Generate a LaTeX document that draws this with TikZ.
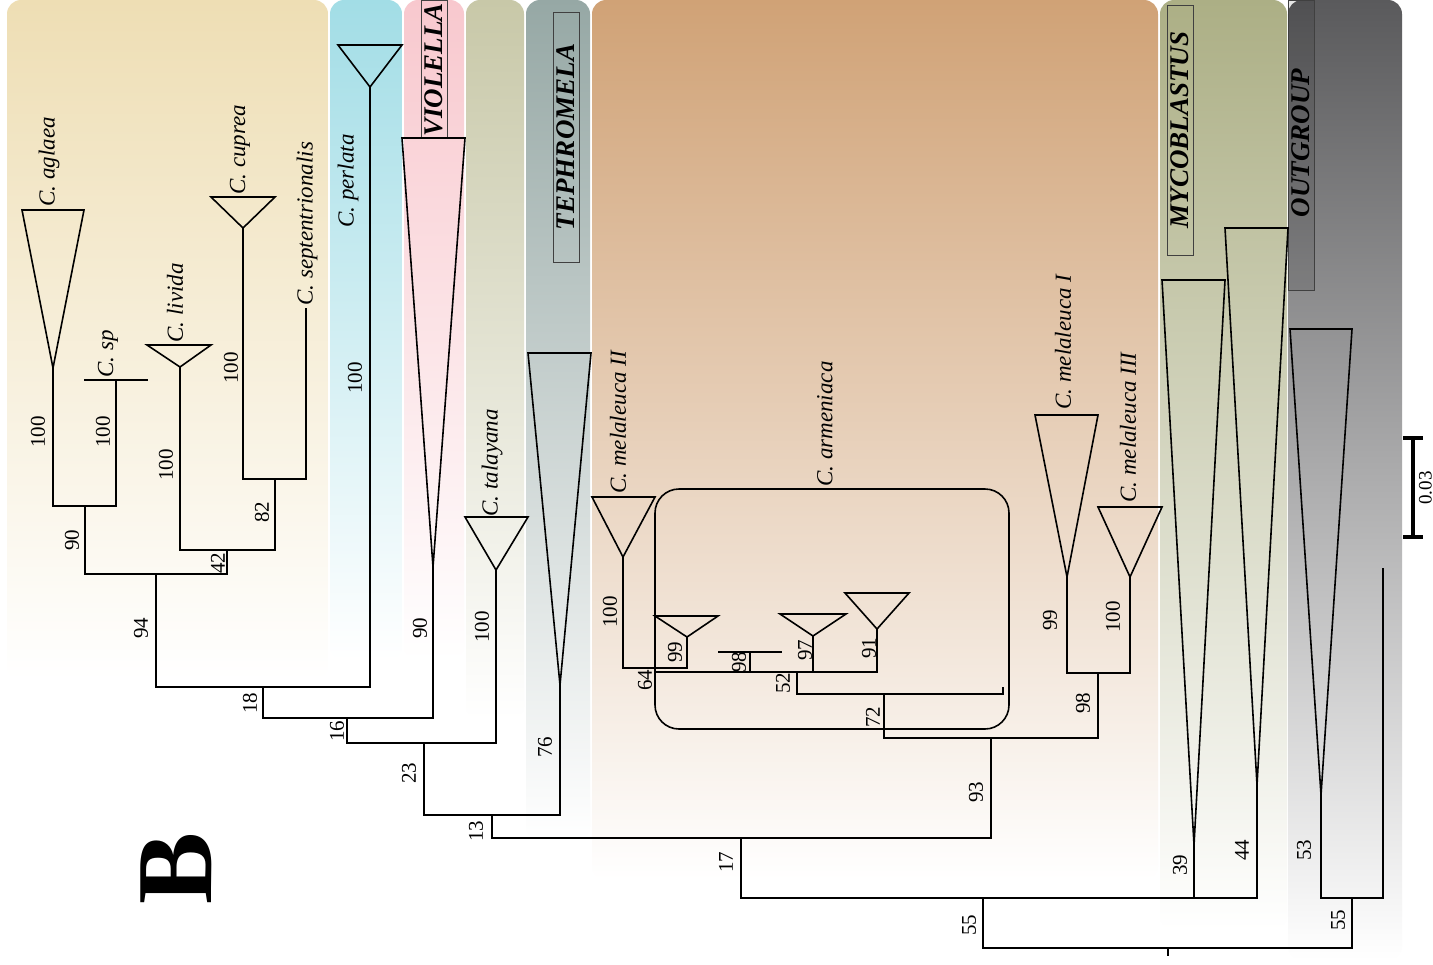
\documentclass[tikz,border=0pt]{standalone}
\usepackage{fontspec}
\setmainfont{Liberation Serif}
\definecolor{ctan}{RGB}{238,222,180}
\definecolor{ccyan}{RGB}{162,221,230}
\definecolor{cpink}{RGB}{248,200,206}
\definecolor{colg}{RGB}{200,200,168}
\definecolor{cteal}{RGB}{150,168,165}
\definecolor{cbrown}{RGB}{208,162,118}
\definecolor{colive}{RGB}{172,175,133}
\definecolor{cgrey}{RGB}{90,90,92}
\begin{document}
\begin{tikzpicture}[x=0.5pt,y=-0.5pt,
  br/.style={line width=0.8pt, line join=miter},
  tri/.style={line width=0.8pt, line join=miter},
  taxon/.style={rotate=90, anchor=west, inner sep=0pt, font=\fontsize{11.5}{13}\selectfont\itshape},
  bs/.style={rotate=90, inner sep=0pt, font=\fontsize{10.5}{12}\selectfont},
  grp/.style={rotate=90, inner sep=0pt, font=\fontsize{13.5}{15}\selectfont\bfseries\itshape},
  grpbox/.style={draw=black!75, line width=0.5pt},
  col/.style={rounded corners=7}]
\useasboundingbox (0,0) rectangle (1433,964);
\fill[white] (0,0) rectangle (1433,964);
% columns
\shade[col, top color=ctan, bottom color=white] (7,0) rectangle (328,680);
\shade[col, top color=ccyan, bottom color=white] (330,0) rectangle (402,660);
\shade[col, top color=cpink, bottom color=white] (404,0) rectangle (464,660);
\shade[col, top color=colg, bottom color=white] (466,0) rectangle (524,720);
\shade[col, top color=cteal, bottom color=white] (526,0) rectangle (590,840);
\shade[col, top color=cbrown, bottom color=white] (592,0) rectangle (1158,880);
\shade[col, top color=colive, bottom color=white] (1160,0) rectangle (1287,930);
\shade[col, top color=cgrey, bottom color=white] (1288,0) rectangle (1402,960);
% group label boxes
\draw[grpbox] (421,0) rectangle (447,138);
\node[grp] (lvio) at (434,70) {VIOLELLA};
\draw[grpbox] (553,12) rectangle (579,262);
\node[grp] (ltep) at (566,137) {TEPHROMELA};
\draw[grpbox] (1167,5) rectangle (1193,255);
\node[grp] (lmyc) at (1180,130) {MYCOBLASTUS};
\filldraw[grpbox, fill=black, fill opacity=0.1] (1288,0) rectangle (1314,290);
\node[grp] (lout) at (1301,143) {OUTGROUP};
% triangles
\draw[tri] (22,210) -- (84,210) -- (53,368) -- cycle;
\draw[tri] (147,345) -- (211,345) -- (180,367) -- cycle;
\draw[tri] (211,197) -- (275,197) -- (243,228) -- cycle;
\draw[tri] (338,45) -- (402,45) -- (370,87) -- cycle;
\draw[tri] (402,138) -- (465,138) -- (433,567) -- cycle;
\draw[tri] (465,517) -- (528,517) -- (496,570) -- cycle;
\draw[tri] (528,353) -- (591,353) -- (560,685) -- cycle;
\draw[tri] (592,497) -- (655,497) -- (623,557) -- cycle;
\draw[tri] (655,616) -- (718,616) -- (687,637) -- cycle;
\draw[tri] (780,614) -- (846,614) -- (813,636) -- cycle;
\draw[tri] (845,593) -- (909,593) -- (877,629) -- cycle;
\draw[tri] (1035,415) -- (1098,415) -- (1067,577) -- cycle;
\draw[tri] (1098,507) -- (1162,507) -- (1130,577) -- cycle;
\draw[tri] (1162,280) -- (1225,280) -- (1194,845) -- cycle;
\draw[tri] (1225,228) -- (1288,228) -- (1257,785) -- cycle;
\draw[tri] (1290,329) -- (1352,329) -- (1321,795) -- cycle;
% armeniaca box
\draw[br, rounded corners=12] (655,489) rectangle (1009,729);
% tips
\coordinate (agl) at (53,368);
\coordinate (sp) at (116,380);
\coordinate (spL) at (84,380);
\coordinate (spR) at (148,380);
\coordinate (liv) at (180,367);
\coordinate (cup) at (243,228);
\coordinate (sep) at (306,308);
\coordinate (per) at (370,87);
\coordinate (vio) at (433,567);
\coordinate (tal) at (496,570);
\coordinate (tep) at (560,685);
\coordinate (m2) at (623,557);
\coordinate (c99) at (687,637);
\coordinate (c98) at (750,652);
\coordinate (c98L) at (718,652);
\coordinate (c98R) at (782,652);
\coordinate (c97) at (813,636);
\coordinate (c91) at (877,629);
\coordinate (tipx) at (1003,687);
\coordinate (m1) at (1067,577);
\coordinate (m3) at (1130,577);
\coordinate (my1) at (1194,845);
\coordinate (my2) at (1257,785);
\coordinate (og1) at (1321,795);
\coordinate (og2) at (1383,568);
% internal nodes
\coordinate (nA) at (85,506);
\coordinate (nB) at (275,479);
\coordinate (nC) at (227,550);
\coordinate (nD) at (156,574);
\coordinate (nE) at (263,687);
\coordinate (nF) at (347,718);
\coordinate (nG) at (424,743);
\coordinate (nH) at (492,815);
\coordinate (nI) at (655,668);
\coordinate (nJ) at (797,672);
\coordinate (nK) at (884,694);
\coordinate (nL) at (1098,673);
\coordinate (nM) at (991,738);
\coordinate (nN) at (741,838);
\coordinate (nO) at (983,898);
\coordinate (nP) at (1352,898);
\coordinate (root) at (1168,948);
\coordinate (rootb) at (1168,956);
% branches
\draw[br] (spL) -- (spR);
\draw[br] (c98L) -- (c98R);
\draw[br] (agl) |- (nA);
\draw[br] (sp) |- (nA);
\draw[br] (cup) |- (nB);
\draw[br] (sep) |- (nB);
\draw[br] (liv) |- (nC);
\draw[br] (nB) |- (nC);
\draw[br] (nA) |- (nD);
\draw[br] (nC) |- (nD);
\draw[br] (nD) |- (nE);
\draw[br] (per) |- (nE);
\draw[br] (nE) |- (nF);
\draw[br] (vio) |- (nF);
\draw[br] (nF) |- (nG);
\draw[br] (tal) |- (nG);
\draw[br] (nG) |- (nH);
\draw[br] (tep) |- (nH);
\draw[br] (m2) |- (nI);
\draw[br] (c99) |- (nI);
\draw[br] (nI) |- (nJ);
\draw[br] (c98) |- (nJ);
\draw[br] (c97) |- (nJ);
\draw[br] (c91) |- (nJ);
\draw[br] (nJ) |- (nK);
\draw[br] (tipx) |- (nK);
\draw[br] (m1) |- (nL);
\draw[br] (m3) |- (nL);
\draw[br] (nK) |- (nM);
\draw[br] (nL) |- (nM);
\draw[br] (nH) |- (nN);
\draw[br] (nM) |- (nN);
\draw[br] (nN) |- (nO);
\draw[br] (my1) |- (nO);
\draw[br] (my2) |- (nO);
\draw[br] (og1) |- (nP);
\draw[br] (og2) |- (nP);
\draw[br] (nO) |- (root);
\draw[br] (nP) |- (root);
\draw[br] (root) -- (rootb);
% taxon labels
\node[taxon] (tagl) at (49,207) {C. aglaea};
\node[taxon] (tsp) at (108,378) {C. sp};
\node[taxon] (tliv) at (175,343) {C. livida};
\node[taxon] (tcup) at (240,195) {C. cuprea};
\node[taxon] (tsep) at (307,306) {C. septentrionalis};
\node[taxon] (tper) at (348,228) {C. perlata};
\node[taxon] (ttal) at (492,517) {C. talayana};
\node[taxon] (tm2) at (618,494) {C. melaleuca II};
\node[taxon] (tarm) at (825,487) {C. armeniaca};
\node[taxon] (tm1) at (1063,410) {C. melaleuca I};
\node[taxon] (tm3) at (1128,503) {C. melaleuca III};
% bootstrap values
\node[bs] (b1) at (38,432) {100};
\node[bs] (b2) at (103,432) {100};
\node[bs] (b3) at (72,540) {90};
\node[bs] (b4) at (166,465) {100};
\node[bs] (b5) at (231,368) {100};
\node[bs] (b6) at (262,512) {82};
\node[bs] (b7) at (218,563) {42};
\node[bs] (b8) at (141,628) {94};
\node[bs] (b9) at (355,378) {100};
\node[bs] (b10) at (250,703) {18};
\node[bs] (b11) at (420,628) {90};
\node[bs] (b12) at (337,731) {16};
\node[bs] (b13) at (482,627) {100};
\node[bs] (b14) at (409,773) {23};
\node[bs] (b15) at (545,747) {76};
\node[bs] (b16) at (476,831) {13};
\node[bs] (b17) at (610,612) {100};
\node[bs] (b18) at (675,652) {99};
\node[bs] (b19) at (739,662) {98};
\node[bs] (b20) at (805,650) {97};
\node[bs] (b21) at (869,648) {91};
\node[bs] (b22) at (645,680) {64};
\node[bs] (b23) at (783,683) {52};
\node[bs] (b24) at (873,717) {72};
\node[bs] (b25) at (1050,620) {99};
\node[bs] (b26) at (1113,617) {100};
\node[bs] (b27) at (1083,703) {98};
\node[bs] (b28) at (976,792) {93};
\node[bs] (b29) at (726,862) {17};
\node[bs] (b30) at (1180,865) {39};
\node[bs] (b31) at (1242,850) {44};
\node[bs] (b32) at (1304,850) {53};
\node[bs] (b33) at (1338,920) {55};
\node[bs] (b34) at (969,925) {55};
% scale bar
\coordinate (sbT) at (1413,438);
\coordinate (sbB) at (1413,537);
\draw[line width=2pt] (sbT) -- (sbB);
\draw[line width=2pt] ([xshift=-5pt]sbT) -- ([xshift=5pt]sbT);
\draw[line width=2pt] ([xshift=-5pt]sbB) -- ([xshift=5pt]sbB);
\node[bs, font=\fontsize{9.5}{11}\selectfont] (sbl) at (1425.5,488) {0.03};
% panel letter
\node[rotate=90, inner sep=0pt, font=\fontsize{54}{56}\selectfont\bfseries] (letter) at (176,868) {B};
\end{tikzpicture}
\end{document}
